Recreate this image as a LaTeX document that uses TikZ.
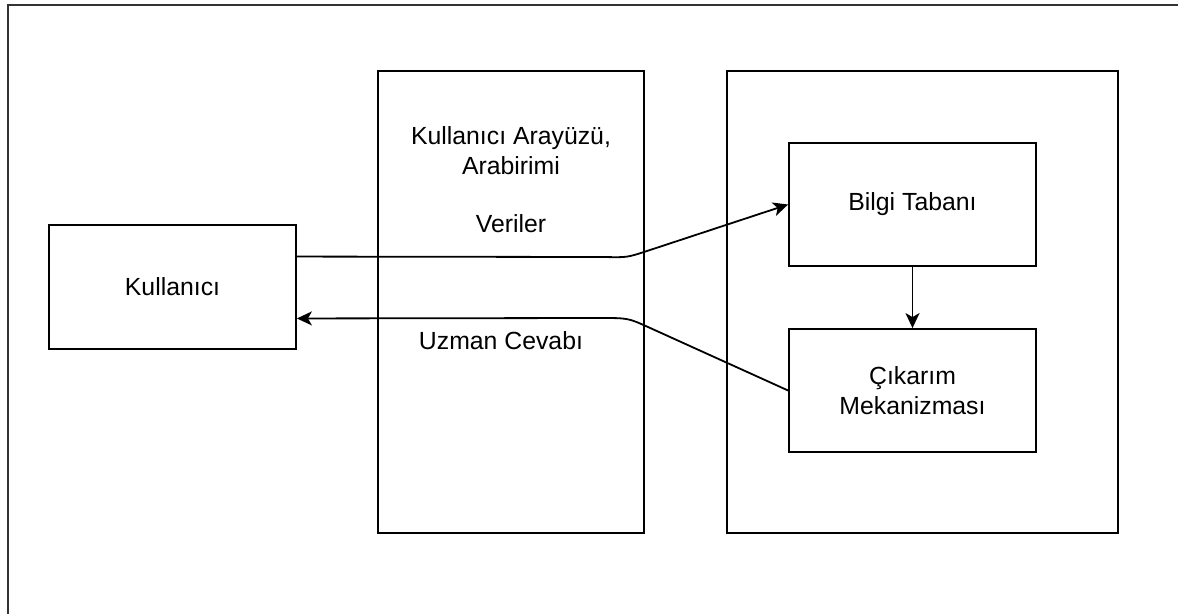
\documentclass[tikz,border=0pt]{standalone}
\usepackage{fontspec}
\setmainfont{Liberation Sans}
\usetikzlibrary{arrows.meta,calc}
\begin{document}
\begin{tikzpicture}[x=1pt,y=-1pt,
  box/.style={draw=black, line width=1.8pt, inner sep=0pt, align=center,
    font=\fontsize{24.8}{30}\selectfont},
  lbl/.style={inner sep=0pt, align=center, font=\fontsize{24.8}{30}\selectfont},
  conn/.style={draw=black, line width=1.8pt, -{Stealth[length=15pt,width=14pt,inset=4pt]}}]
\useasboundingbox (0,0) rectangle (1178,614);
% outer frame (only top and left edges visible)
\draw[line width=2.2pt, color=black!80] (8,614) -- (8,5) -- (1178,5);
% containers
\node[box, minimum width=266pt, minimum height=462pt] (ui) at (511,302) {};
\node[box, minimum width=391pt, minimum height=462pt] (rb) at (922.5,302) {};
% nodes
\node[box, minimum width=247pt, minimum height=124pt] (k) at (172.5,287) {Kullanıcı};
\node[box, minimum width=247pt, minimum height=123pt] (b) at (912.5,204.5) {Bilgi Tabanı};
\node[box, minimum width=247pt, minimum height=123pt] (c) at (912.5,390.5) {Çıkarım\\Mekanizması};
% labels
\node[lbl] (uit) at (511,151) {Kullanıcı Arayüzü,\\Arabirimi};
\node[lbl] (ver) at (511,224) {Veriler};
\node[lbl] (uzm) at (501,341) {Uzman Cevabı};
% bend points
\coordinate (v1) at (605,257);
\coordinate (v2) at (647,251);
\coordinate (u1) at (648,327);
\coordinate (u2) at (600,318);
% connectors
\draw[conn] ($(k.north east)!0.258!(k.south east)$) -- (v1) .. controls (627,257.5) .. (v2) -- (b.west);
\draw[conn] (c.west) -- (u1) .. controls (628,318) .. (u2) -- ($(k.north east)!0.75!(k.south east)$);
\draw[conn] (b.south) -- (c.north);
\end{tikzpicture}
\end{document}
